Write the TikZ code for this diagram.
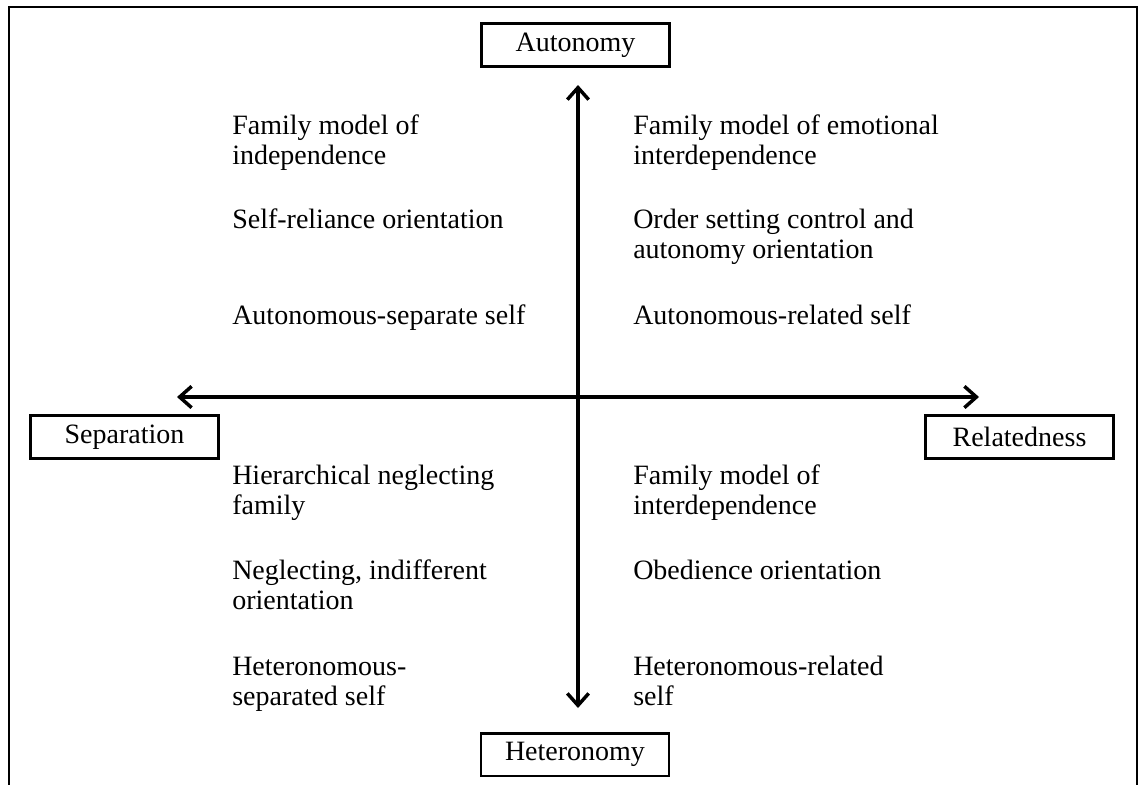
\documentclass[tikz,border=0pt]{standalone}
\usepackage{fontspec}
\setmainfont{Liberation Serif}
\usetikzlibrary{arrows.meta}
\begin{document}
\begin{tikzpicture}[x=0.75pt,y=-0.75pt,
  lbl/.style={draw,line width=2pt,minimum width=141pt,minimum height=32pt,inner sep=0pt,font=\fontsize{21}{25}\selectfont},
  txt/.style={anchor=base west,align=left,inner sep=0pt,font=\fontsize{21}{22.5}\selectfont},
  axis/.style={line width=2.6pt,{Straight Barb[length=9pt,width=16pt]}-{Straight Barb[length=9pt,width=16pt]}},
  frame/.style={line width=1.5pt}]
\useasboundingbox (0,0) rectangle (1140,785);
\draw[frame] (9,785) -- (9,7) -- (1137,7) -- (1137,785);

\node[lbl] (aut) at (575.5,45) {Autonomy};
\node[lbl] (sep) at (124.5,437) {Separation};
\node[lbl] (rel) at (1019.5,437) {Relatedness};
\node[lbl] (het) at (575,754.5) {Heteronomy};

\coordinate (vtop) at (578,85);
\coordinate (vbot) at (578,708);
\coordinate (hl) at (177,397);
\coordinate (hr) at (979,397);
\draw[axis] (vbot) -- (vtop);
\draw[axis] (hl) -- (hr);

% base anchor of a two-line node is the baseline of its last line
\node[txt] (q1a) at (232,164) {Family model of\\independence};
\node[txt] (q1b) at (232,228) {Self-reliance orientation};
\node[txt] (q1c) at (232,324) {Autonomous-separate self};
\node[txt] (q2a) at (633,164) {Family model of emotional\\interdependence};
\node[txt] (q2b) at (633,258) {Order setting control and\\autonomy orientation};
\node[txt] (q2c) at (633,324) {Autonomous-related self};
\node[txt] (q3a) at (232,514) {Hierarchical neglecting\\family};
\node[txt] (q3b) at (232,609) {Neglecting, indifferent\\orientation};
\node[txt] (q3c) at (232,705) {Heteronomous-\\separated self};
\node[txt] (q4a) at (633,514) {Family model of\\interdependence};
\node[txt] (q4b) at (633,579) {Obedience orientation};
\node[txt] (q4c) at (633,705) {Heteronomous-related\\self};
\end{tikzpicture}
\end{document}
